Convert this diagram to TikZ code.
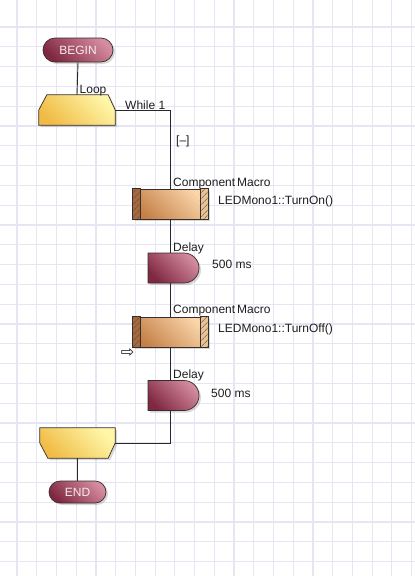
\documentclass[tikz,border=0pt]{standalone}
\usepackage{fontspec}
\setmainfont{Liberation Sans}
\newfontfamily\arrowfont{DejaVu Sans}
\usepackage{xcolor}
\usepackage{tikz}
\usetikzlibrary{
	calc,
	patterns.meta,
	shadows,
	shapes.misc
}

\definecolor{gridcol}{RGB}{230,229,243}
\definecolor{edgecol}{RGB}{55,45,45}
\definecolor{wirecol}{RGB}{40,40,40}
\definecolor{labelcol}{RGB}{30,30,30}
\definecolor{termdark}{RGB}{128,40,66}
\definecolor{termlight}{RGB}{212,140,160}
\definecolor{termtext}{RGB}{250,234,240}
\definecolor{macrodark}{RGB}{196,128,72}
\definecolor{macrolight}{RGB}{250,214,170}
\definecolor{loopdark}{RGB}{240,188,70}
\definecolor{looplight}{RGB}{255,246,168}
\definecolor{bardark}{RGB}{165,105,60}
\definecolor{barlight}{RGB}{232,194,146}

\tikzset{
	gridln/.style={draw=gridcol, line width=1.2pt},
	wire/.style={draw=wirecol, line width=0.9pt},
	fctext/.style={font=\fontsize{12}{14}\selectfont, text=labelcol, inner sep=0pt},
	fcshadow/.style={drop shadow={shadow xshift=2pt, shadow yshift=-2pt, opacity=0.3}},
	diagshade/.style 2 args={top color=#2, bottom color=#1, shading angle=-45},
	terminal/.style={rounded rectangle, draw=edgecol, line width=0.7pt, fcshadow,
		diagshade={termdark}{termlight},
		text=termtext, font=\fontsize{12}{14}\selectfont, inner sep=0pt},
	delaybox/.style={terminal, rounded rectangle left arc=none,
		minimum width=51pt, minimum height=30pt},
	macrobox/.style={rectangle, draw=edgecol, line width=0.7pt, fcshadow,
		diagshade={macrodark}{macrolight},
		minimum width=75pt, minimum height=30pt, inner sep=0pt},
	loopface/.style={draw=edgecol, line width=0.7pt, fcshadow,
		diagshade={loopdark}{looplight}},
	hatchbar/.style={draw=edgecol, line width=0.7pt,
		pattern={Lines[angle=45, distance=4pt, line width=0.6pt]}, pattern color=edgecol!85},
	framebox/.style={rectangle, minimum width=76pt, minimum height=30pt, inner sep=0pt}
}

\begin{document}
\begin{tikzpicture}[x=1pt, y=-1pt]
	\useasboundingbox (0,0) rectangle (415,576);
	\fill[white] (0,0) rectangle (415,576);
	
	% 网格
	\foreach \i in {0,...,20}
		\draw[gridln] ({17+19.73*\i},0) -- ({17+19.73*\i},576);
	\foreach \j in {0,...,27}
		\draw[gridln] (0,{27+19.8*\j}) -- (415,{27+19.8*\j});
	
	% 开始与结束
	\node[terminal, minimum width=70pt, minimum height=24pt] (begin) at (78,50) {BEGIN};
	\node[terminal, minimum width=57pt, minimum height=22pt] (end) at (77.5,492) {END};
	
	% 循环
	\node[framebox] (loop) at (77,110) {};
	\path[loopface] ([xshift=8pt]loop.north west) -- ([xshift=-7pt]loop.north east)
		-- (loop.east) -- (loop.south east) -- (loop.south west) -- (loop.west) -- cycle;
	\node[framebox, minimum width=75pt] (endloop) at (77.5,443) {};
	\path[loopface] (endloop.north west) -- (endloop.north east) -- (endloop.east)
		-- ([xshift=-7pt]endloop.south east) -- ([xshift=8pt]endloop.south west)
		-- (endloop.west) -- cycle;
	
	% 组件宏
	\node[macrobox] (m1) at (170,204) {};
	\path[hatchbar, preaction={fill=bardark}] (m1.north west) rectangle ([xshift=8pt]m1.south west);
	\path[hatchbar, preaction={fill=barlight}] ([xshift=-8pt]m1.north east) rectangle (m1.south east);
	\node[macrobox] (m2) at (170,332) {};
	\path[hatchbar, preaction={fill=bardark}] (m2.north west) rectangle ([xshift=8pt]m2.south west);
	\path[hatchbar, preaction={fill=barlight}] ([xshift=-8pt]m2.north east) rectangle (m2.south east);
	
	% 延时
	\node[delaybox] (d1) at (173.5,268) {};
	\node[delaybox] (d2) at (173.5,395.5) {};
	
	% 连线
	\draw[wire] (begin.south) -- (loop.north);
	\draw[wire] (loop.east) -| (m1.north);
	\draw[wire] (m1.south) -- (m1.south |- d1.north);
	\draw[wire] (m1.south |- d1.south) -- (m2.north);
	\draw[wire] (m2.south) -- (m2.south |- d2.north);
	\draw[wire] (m2.south |- d2.south) |- (endloop.east);
	\draw[wire] (endloop.south) -- (end.north);
	
	% 标注
	\node[fctext, anchor=base west] (looplbl) at (79.5,93) {Loop};
	\node[fctext, anchor=base west] (whilelbl) at (125,109) {While 1};
	\node[fctext, anchor=base west] (fold) at (176,144) {[--]};
	\node[fctext, anchor=base west] (m1lbl) at (173,186) {Component\,Macro};
	\node[fctext, anchor=base west] (m1txt) at (218,204) {LEDMono1::TurnOn()};
	\node[fctext, anchor=base west] (d1lbl) at (173,251) {Delay};
	\node[fctext, anchor=base west] (d1txt) at (212,268) {500 ms};
	\node[fctext, anchor=base west] (m2lbl) at (173,313) {Component\,Macro};
	\node[fctext, anchor=base west] (m2txt) at (218,332) {LEDMono1::TurnOff()};
	\node[fctext, font=\arrowfont\fontsize{16}{18}\selectfont] (cursor) at (127.5,353) {⇨};
	\node[fctext, anchor=base west] (d2lbl) at (173,378) {Delay};
	\node[fctext, anchor=base west] (d2txt) at (211,397) {500 ms};
\end{tikzpicture}
\end{document}
